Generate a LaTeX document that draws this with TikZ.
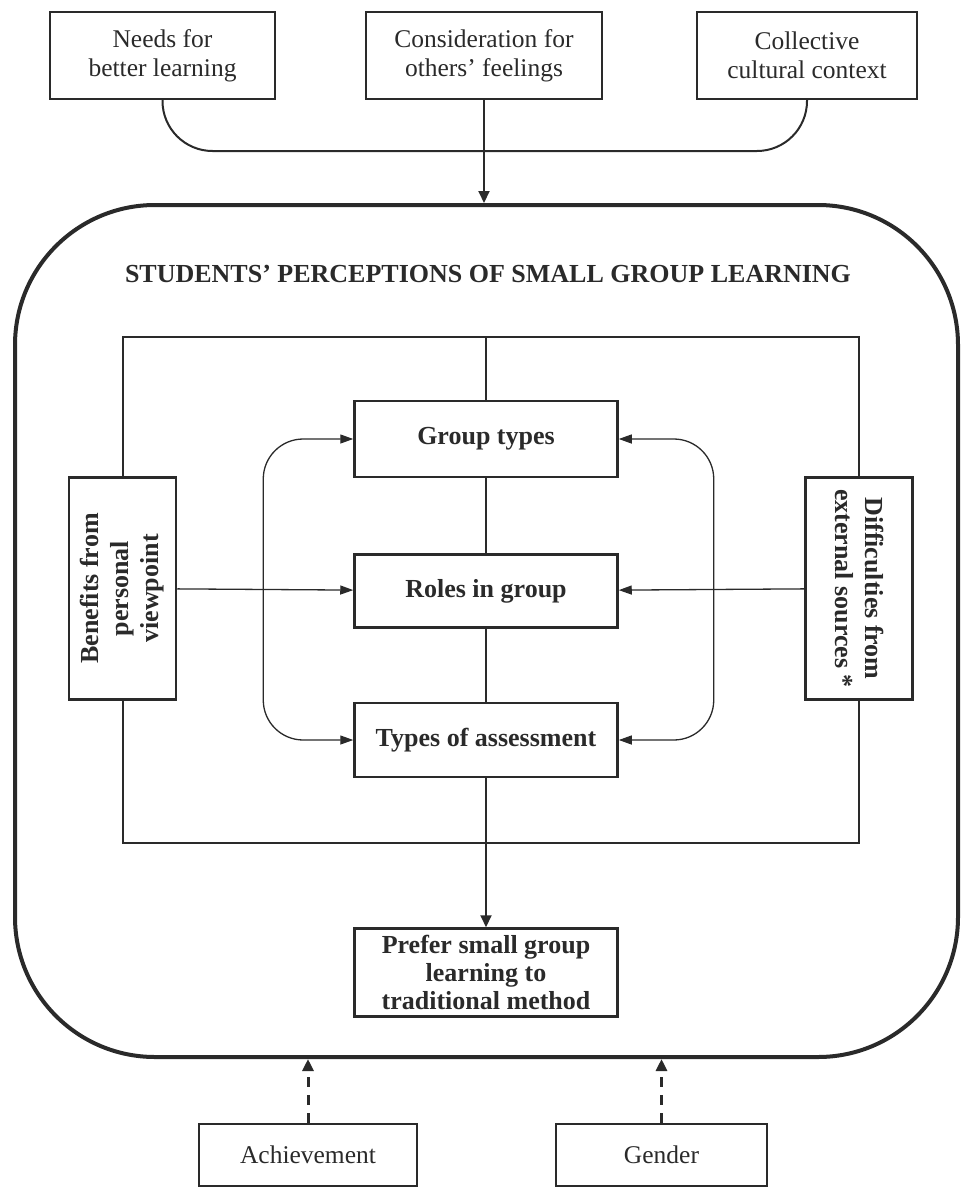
\documentclass[tikz,border=0pt]{standalone}
\usepackage{fontspec}
\setmainfont{Liberation Serif}
\usepackage{xcolor}
\usetikzlibrary{shapes,arrows.meta,positioning}
\definecolor{ink}{HTML}{2A2A2A}

\begin{document}
\begin{tikzpicture}[x=1pt, y=-1pt, color=ink]
    \tikzstyle{factor} = [rectangle, draw, line width=2.5pt, align=center, inner sep=0pt, font=\fontsize{25.5}{29}\selectfont]
    \tikzstyle{theme} = [rectangle, draw, line width=2.5pt, align=center, inner sep=0pt, minimum width=263pt, font=\fontsize{26}{28}\selectfont\bfseries]
    \tikzstyle{side} = [theme, minimum width=222pt, minimum height=107pt, font=\fontsize{26}{30}\selectfont\bfseries]
    \tikzstyle{frameline} = [line width=2pt]
    \tikzstyle{arrow} = [line width=2pt, -{Triangle[length=12pt,width=11pt]}]
    \tikzstyle{thinarrow} = [line width=1.3pt, -{Triangle[length=13pt,width=9pt]}]
    \tikzstyle{twoway} = [line width=1.3pt, {Triangle[length=13pt,width=9pt]}-{Triangle[length=13pt,width=9pt]}, rounded corners=40pt]
    \tikzstyle{dasharrow} = [line width=3pt, dash pattern=on 10pt off 8pt, -{Triangle[length=12pt,width=11pt]}]

    \useasboundingbox (0,0) rectangle (961,1188);

    % Antecedents
    \node [factor, minimum width=225pt, minimum height=87pt] (needs) at (162.5,55.5) {Needs for\\better learning};
    \node [factor, minimum width=236pt, minimum height=87pt] (regard) at (484,55.5) {Consideration for\\others’ feelings};
    \node [factor, minimum width=220pt, minimum height=87pt] (culture) at (807,55.5) {Collective\\cultural context};

    % Perceptions frame
    \node [draw, line width=4pt, rounded corners=140pt, minimum width=943pt, minimum height=852pt] (frame) at (486.5,631) {};
    \node [font=\fontsize{26}{30}\selectfont\bfseries] (title) at (488,274) {STUDENTS’ PERCEPTIONS OF SMALL GROUP LEARNING};

    % Antecedents join
    \draw [frameline, rounded corners=50pt] (needs.south) |- (486,151) -| (culture.south);
    \draw [arrow] (regard.south) -- (regard.south |- frame.north);

    % Group types
    \node [theme, minimum height=76pt] (group) at (486,439) {Group types};

    % Roles in group
    \node [theme, minimum height=73pt, below=75pt of group] (roles) {Roles in group};

    % Types of assessment
    \node [theme, minimum height=74pt, below=73pt of roles] (assess) {Types of assessment};

    % Preference
    \node [theme, minimum height=88pt, below=149pt of assess] (prefer) {Prefer small group\\learning to\\traditional method};

    % Benefits
    \node [side, rotate=90] (benefit) at (122.5,588.5) {Benefits from\\personal\\viewpoint};

    % Difficulties
    \node [side, rotate=-90] (hurdle) at (859,588.5) {Difficulties from\\external sources *};

    % Inner frame
    \coordinate (top) at (486,337);
    \coordinate (bottom) at (486,843);
    \draw [frameline] (benefit.east) |- (top) -| (hurdle.west);
    \draw [frameline] (benefit.west) |- (bottom) -| (hurdle.east);
    \draw [frameline] (top) -- (group);
    \draw [frameline] (group) -- (roles);
    \draw [frameline] (roles) -- (assess);
    \draw [arrow] (assess) -- (prefer);

    % Arrows
    \draw [thinarrow] (benefit) -- (roles);
    \draw [thinarrow] (hurdle) -- (roles);
    \draw [twoway] (group.west) -- ++(-90,0) |- (assess.west);
    \draw [twoway] (group.east) -- ++(95,0) |- (assess.east);

    % Moderators
    \node [factor, minimum width=218pt, minimum height=62pt] (achieve) at (308,1155) {Achievement};
    \node [factor, minimum width=211pt, minimum height=62pt] (gender) at (661.5,1155) {Gender};
    \draw [dasharrow] (achieve) -- (achieve |- frame.south);
    \draw [dasharrow] (gender) -- (gender |- frame.south);
\end{tikzpicture}
\end{document}
